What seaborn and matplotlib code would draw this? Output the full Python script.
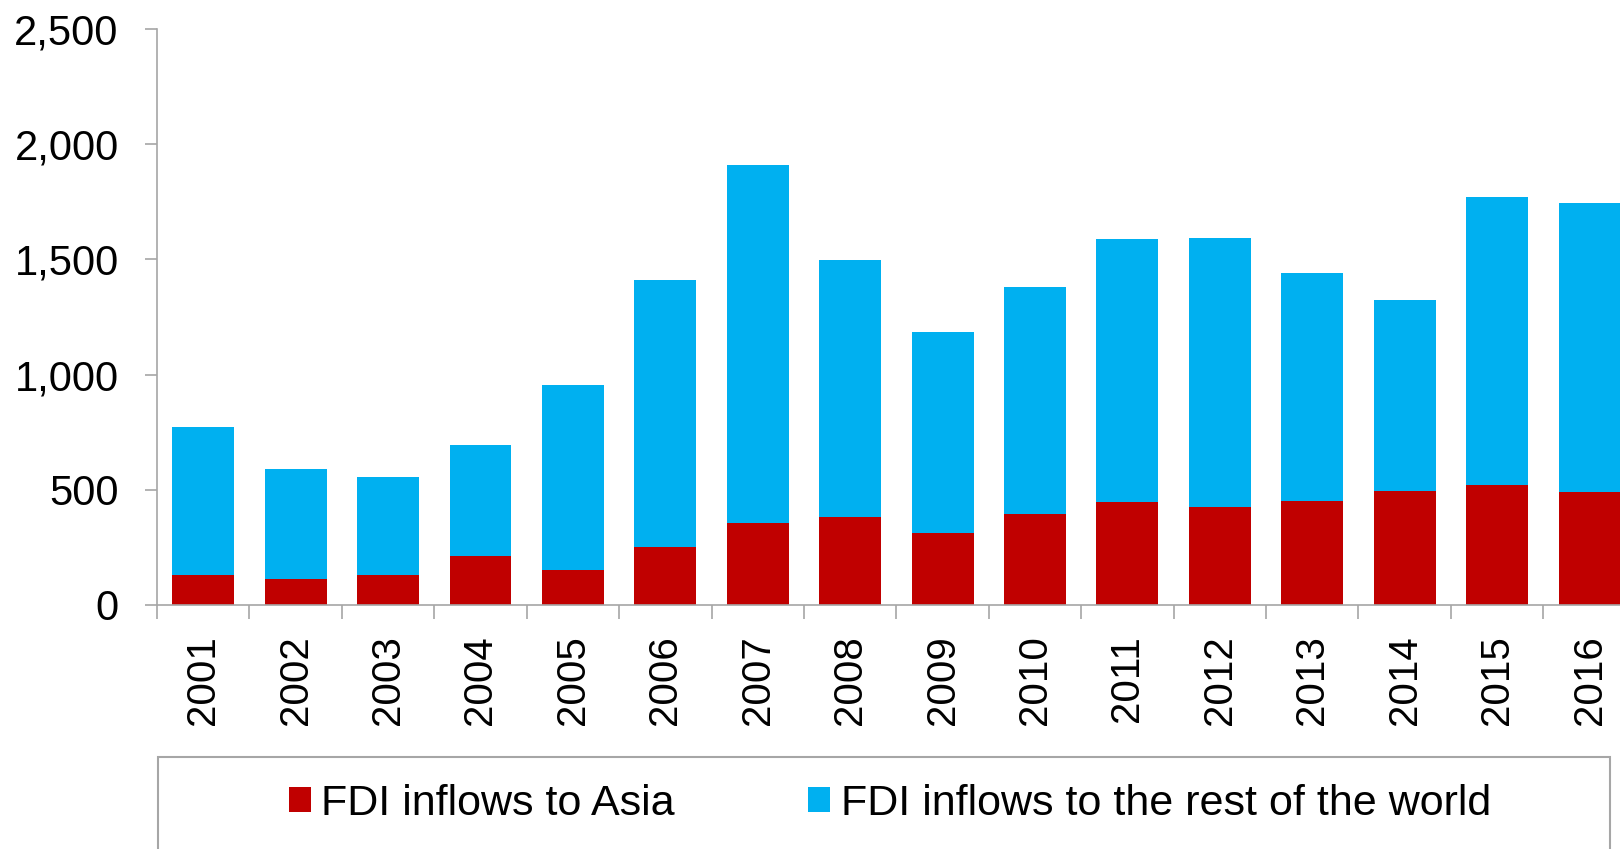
import numpy as np
import pandas as pd
import seaborn as sns
import matplotlib.pyplot as plt
from matplotlib.patches import Rectangle
from matplotlib.ticker import FuncFormatter, FixedLocator

# FDI inflows, values (US$ bn)
years = [str(y) for y in range(2001, 2017)]
fdi_asia = [130, 112, 130, 211, 152, 251, 354, 381, 314, 394, 448, 427, 453, 496, 523, 489]
fdi_total = [771, 591, 556, 694, 954, 1411, 1908, 1496, 1187, 1380, 1590, 1591, 1441, 1322, 1772, 1745]
fdi_rest = [t - a for t, a in zip(fdi_total, fdi_asia)]

label_asia = 'FDI inflows to Asia'
label_rest = 'FDI inflows to the rest of the world'
red = '#C00000'
blue = '#00B0F0'
grey = '#A6A6A6'

df = pd.DataFrame({'Year': years, 'Asia': fdi_asia, 'Rest': fdi_rest})
df['Total'] = df['Asia'] + df['Rest']

sns.set_theme(style='white')
plt.rcParams['font.family'] = ['Liberation Sans', 'DejaVu Sans']
plt.rcParams['text.color'] = 'black'

fig = plt.figure(figsize=(16.2, 8.49), dpi=100)
ax = fig.add_axes([157 / 1620, 244 / 849, 1463 / 1620, 576 / 849])

# stacked bars: total first (blue), Asia on top of it (red)
sns.barplot(data=df, x='Year', y='Total', color=blue, width=0.67,
            saturation=1, ax=ax, label=label_rest, linewidth=0)
sns.barplot(data=df, x='Year', y='Asia', color=red, width=0.67,
            saturation=1, ax=ax, label=label_asia, linewidth=0)

ax.set_xlabel('')
ax.set_ylabel('')
ax.set_ylim(0, 2500)
ax.set_xlim(-0.5, 15.33)
ax.set_yticks(np.arange(0, 2501, 500))
ax.yaxis.set_major_formatter(FuncFormatter(lambda v, p: f'{int(v):,}'))

for s in ['top', 'right']:
    ax.spines[s].set_visible(False)
for s in ['left', 'bottom']:
    ax.spines[s].set_color(grey)
    ax.spines[s].set_linewidth(1.2)

ax.tick_params(axis='y', which='major', left=True, length=8.6, width=1.2,
               color=grey, pad=19, labelsize=30, labelcolor='black')
ax.xaxis.set_minor_locator(FixedLocator(np.arange(-0.5, 16, 1)))
ax.tick_params(axis='x', which='minor', bottom=True, length=10, width=1.2, color=grey)
ax.tick_params(axis='x', which='major', bottom=True, length=0, pad=22,
               labelsize=29, labelrotation=90, labelcolor='black')

handles, labels = ax.get_legend_handles_labels()
if ax.get_legend() is not None:
    ax.get_legend().remove()
order = [labels.index(label_asia), labels.index(label_rest)]
leg = fig.legend([handles[i] for i in order], [labels[i] for i in order],
                 loc='center', bbox_to_anchor=(890 / 1620, 1 - 804 / 849),
                 ncol=2, frameon=False, fontsize=31, handlelength=0.5,
                 handleheight=0.5, handletextpad=0.25, columnspacing=3.1,
                 labelcolor='black')
for h in leg.legend_handles:
    h.set_edgecolor('none')

fig.patches.append(Rectangle((158 / 1620, -0.05), 1452 / 1620, (849 - 757) / 849 + 0.05,
                             transform=fig.transFigure, fill=False,
                             edgecolor=grey, linewidth=1.5))

fig.savefig('out.png', dpi=100)
